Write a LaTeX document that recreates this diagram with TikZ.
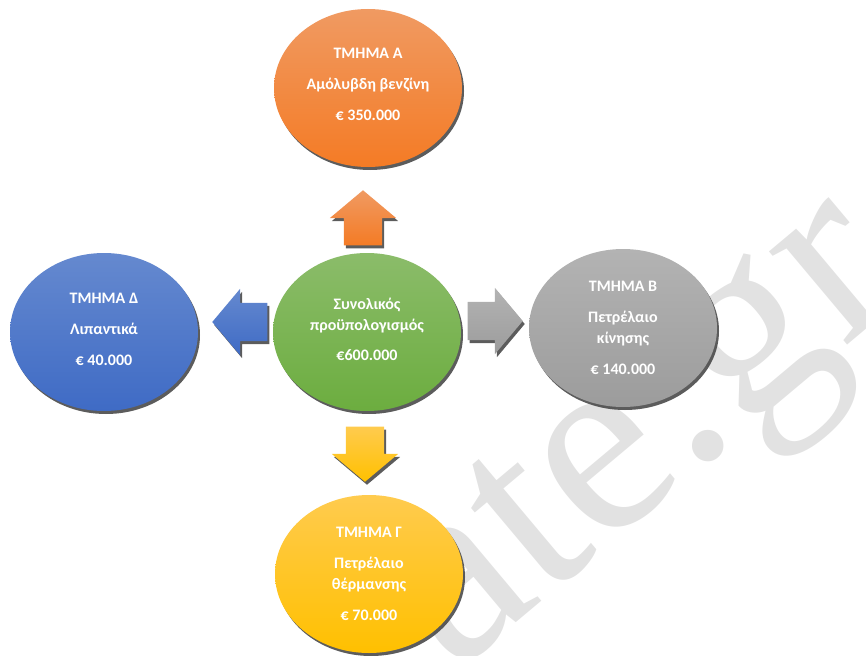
\documentclass[tikz,border=0pt]{standalone}
\usepackage{fontspec}
\setmainfont{Carlito}
\newfontfamily\markfont{Liberation Serif}
\usepackage{xcolor}
\definecolor{orangeTop}{HTML}{F09A62}
\definecolor{orangeBottom}{HTML}{F47B25}
\definecolor{blueTop}{HTML}{6589CF}
\definecolor{blueBottom}{HTML}{3F6BC5}
\definecolor{greenTop}{HTML}{8BBC6A}
\definecolor{greenBottom}{HTML}{6CAD3F}
\definecolor{grayTop}{HTML}{B3B3B3}
\definecolor{grayBottom}{HTML}{9C9C9C}
\definecolor{yellowTop}{HTML}{FFCB4E}
\definecolor{yellowBottom}{HTML}{FFC000}
\definecolor{markGray}{HTML}{E2E2E2}
\usetikzlibrary{%
    shapes,
    shapes.geometric,
    shapes.arrows,
    shadows,
    positioning
}

\begin{document}
\begin{tikzpicture}[x=1pt, y=-1pt,
                dept/.style={ellipse, minimum width=188pt, minimum height=158pt, inner sep=0pt, text=white, align=center, font=\fontsize{16}{21}\selectfont\bfseries, drop shadow={shadow xshift=2pt, shadow yshift=-3pt, opacity=0.85, fill=black!75}},
                fatarrow/.style={single arrow, minimum height=55pt, minimum width=66pt, single arrow head extend=14pt, single arrow tip angle=100, inner xsep=0pt, inner ysep=19pt, anchor=tip, drop shadow={shadow xshift=2pt, shadow yshift=-3pt, opacity=0.85, fill=black!75}},
                upright/.style={inner xsep=19pt, inner ysep=0pt},
                orangefill/.style={top color=orangeTop, bottom color=orangeBottom},
                bluefill/.style={top color=blueTop, bottom color=blueBottom},
                greenfill/.style={top color=greenTop, bottom color=greenBottom},
                grayfill/.style={top color=grayTop, bottom color=grayBottom},
                yellowfill/.style={top color=yellowTop, bottom color=yellowBottom}
            ]

            \useasboundingbox (0,0) rectangle (866,655);

            % watermark behind everything
            \begin{scope}
                \clip (0,0) rectangle (866,655);
                \node (mark) at (454,675) [anchor=base west, rotate=40, inner sep=0pt, text=markGray, font=\markfont\fontsize{265}{265}\selectfont] {ate.gr};
            \end{scope}

            \node (total) at (367,332) [dept, greenfill, text depth=6pt] {Συνολικός\\προϋπολογισμός\\[9pt]€600.000};

            \node (deptA) at (368,88) [dept, orangefill, text depth=8pt] {ΤΜΗΜΑ Α\\[10pt]Αμόλυβδη βενζίνη\\[10pt]€ 350.000};
            \node (deptB) at (623,328) [dept, grayfill] {ΤΜΗΜΑ Β\\[10pt]Πετρέλαιο\\κίνησης\\[10pt]€ 140.000};
            \node (deptC) at (369,574) [dept, yellowfill] {ΤΜΗΜΑ Γ\\[10pt]Πετρέλαιο\\θέρμανσης\\[10pt]€ 70.000};
            \node (deptD) at (104,332) [dept, bluefill, text depth=6pt] {ΤΜΗΜΑ Δ\\[10pt]Λιπαντικά\\[10pt]€ 40.000};

            \node (toA) at (363,190) [fatarrow, upright, orangefill, shape border rotate=90] {};
            \node (toB) at (523,321) [fatarrow, grayfill] {};
            \node (toC) at (365,482) [fatarrow, upright, yellowfill, shape border rotate=270] {};
            \node (toD) at (212,322) [fatarrow, bluefill, shape border rotate=180] {};
        \end{tikzpicture}
\end{document}
